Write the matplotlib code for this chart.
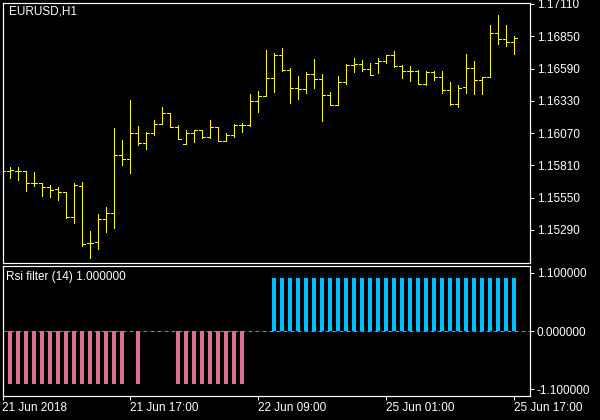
import matplotlib
matplotlib.use("Agg")
import matplotlib.pyplot as plt
import numpy as np

plt.rcParams['font.family'] = ['Liberation Sans', 'DejaVu Sans']
plt.rcParams['axes.unicode_minus'] = False

# ---- data (EURUSD H1, one value per hourly bar) ----
opens = [1.15765, 1.15765, 1.15765, 1.15765, 1.15666, 1.15671, 1.15634, 1.15618, 1.15594, 1.15397,
         1.15644, 1.15183, 1.15191, 1.15376, 1.15425, 1.15894, 1.15859, 1.16069, 1.15993, 1.16069,
         1.16141, 1.16230, 1.16117, 1.15980, 1.16069, 1.16095, 1.16037, 1.16120, 1.16004, 1.16053,
         1.16133, 1.16133, 1.16329, 1.16369, 1.16512, 1.16699, 1.16581, 1.16431, 1.16423, 1.16544,
         1.16506, 1.16377, 1.16294, 1.16479, 1.16619, 1.16624, 1.16584, 1.16632, 1.16651, 1.16699,
         1.16608, 1.16570, 1.16570, 1.16468, 1.16560, 1.16522, 1.16415, 1.16302, 1.16442, 1.16595,
         1.16496, 1.16522, 1.16874, 1.16828, 1.16802]
highs = [1.15781, 1.15800, 1.15800, 1.15765, 1.15757, 1.15671, 1.15652, 1.15634, 1.15598, 1.15666,
         1.15674, 1.15284, 1.15416, 1.15473, 1.16109, 1.16015, 1.16337, 1.16128, 1.16082, 1.16176,
         1.16281, 1.16230, 1.16136, 1.16095, 1.16095, 1.16095, 1.16176, 1.16122, 1.16069, 1.16146,
         1.16154, 1.16385, 1.16409, 1.16740, 1.16713, 1.16753, 1.16592, 1.16530, 1.16560, 1.16667,
         1.16546, 1.16401, 1.16530, 1.16627, 1.16673, 1.16659, 1.16632, 1.16673, 1.16699, 1.16732,
         1.16619, 1.16611, 1.16576, 1.16568, 1.16570, 1.16570, 1.16479, 1.16458, 1.16707, 1.16651,
         1.16525, 1.16941, 1.17021, 1.16941, 1.16852]
lows = [1.15749, 1.15711, 1.15693, 1.15606, 1.15647, 1.15566, 1.15558, 1.15532, 1.15389, 1.15344,
        1.15164, 1.15067, 1.15137, 1.15276, 1.15309, 1.15813, 1.15747, 1.15972, 1.15945, 1.16057,
        1.16141, 1.16117, 1.16020, 1.15980, 1.16001, 1.16029, 1.16033, 1.16004, 1.16004, 1.16037,
        1.16082, 1.16130, 1.16243, 1.16375, 1.16404, 1.16573, 1.16315, 1.16347, 1.16396, 1.16431,
        1.16170, 1.16294, 1.16294, 1.16463, 1.16560, 1.16573, 1.16536, 1.16557, 1.16632, 1.16600,
        1.16516, 1.16492, 1.16468, 1.16458, 1.16500, 1.16391, 1.16297, 1.16283, 1.16396, 1.16388,
        1.16388, 1.16520, 1.16788, 1.16774, 1.16710]
closes = [1.15765, 1.15771, 1.15765, 1.15666, 1.15666, 1.15634, 1.15612, 1.15594, 1.15397, 1.15652,
          1.15175, 1.15183, 1.15376, 1.15427, 1.15894, 1.15859, 1.16069, 1.15993, 1.16069, 1.16141,
          1.16230, 1.16117, 1.16020, 1.16069, 1.16095, 1.16037, 1.16120, 1.16004, 1.16057, 1.16138,
          1.16133, 1.16326, 1.16369, 1.16512, 1.16699, 1.16581, 1.16431, 1.16423, 1.16544, 1.16506,
          1.16377, 1.16294, 1.16479, 1.16619, 1.16624, 1.16584, 1.16536, 1.16651, 1.16699, 1.16608,
          1.16570, 1.16570, 1.16468, 1.16560, 1.16522, 1.16415, 1.16302, 1.16431, 1.16595, 1.16496,
          1.16522, 1.16874, 1.16828, 1.16802, 1.16834]
rsi_filter = [-1, -1, -1, -1, -1, -1, -1, -1, -1, -1,
              -1, -1, -1, -1, -1, -1, 0, -1, 0, 0,
              0, 0, -1, -1, -1, -1, -1, -1, -1, -1,
              -1, 0, 0, 0, 1, 1, 1, 1, 1, 1,
              1, 1, 1, 1, 1, 1, 1, 1, 1, 1,
              1, 1, 1, 1, 1, 1, 1, 1, 1, 1,
              1, 1, 1, 1, 1]
time_tick_bars = [0, 16, 32, 48, 64]
time_tick_labels = ["21 Jun 2018", "21 Jun 17:00", "22 Jun 09:00", "25 Jun 01:00", "25 Jun 17:00"]
price_ticks = [1.17110, 1.16850, 1.16590, 1.16330, 1.16070, 1.15810, 1.15550, 1.15290]
rsi_ticks = [1.1, 0.0, -1.1]
rsi_tick_labels = ["1.100000", "0.000000", "-1.100000"]
symbol_title = "EURUSD,H1"
indicator_title = "Rsi filter (14) 1.000000"

# ---- figure ----
W, H = 600, 420
fig = plt.figure(figsize=(6, 4.2), dpi=100, facecolor='black')

def frac(left, top, right, bottom):
    return [left / W, 1 - bottom / H, (right - left) / W, (bottom - top) / H]

ax = fig.add_axes(frac(2.5, 2.5, 530, 263))
ax2 = fig.add_axes(frac(2.5, 265.5, 530, 396))

x = np.arange(len(opens))
xlim = (0.0625, 66.0)
fs = 8.5
px = 0.72  # one pixel in points

for a in (ax, ax2):
    a.set_facecolor('black')
    for s in a.spines.values():
        s.set_color('white')
        s.set_linewidth(px * 1.2)
    a.set_xlim(*xlim)
    a.yaxis.tick_right()
    a.tick_params(axis='y', which='both', direction='out', length=3, width=px,
                  colors='white', labelsize=fs, pad=2, left=False, right=True)

# price bars (OHLC)
ycol = '#FFFF00'
ax.vlines(x, lows, highs, color=ycol, lw=px, antialiased=False)
ax.hlines(opens, x - 0.33, x, color=ycol, lw=px, antialiased=False)
ax.hlines(closes, x, x + 0.33, color=ycol, lw=px, antialiased=False)
ax.set_ylim(1.15024, 1.17122)
ax.set_yticks(price_ticks)
ax.set_yticklabels([f"{p:.5f}" for p in price_ticks])
ax.set_xticks([])
ax.text(7 / 527.5, 1 - 9.5 / 260.5, symbol_title, transform=ax.transAxes,
        color='white', fontsize=fs, ha='left', va='center')

# indicator histogram
vals = np.array(rsi_filter, dtype=float)
neg = vals < 0
pos = vals > 0
ax2.axhline(0, color='#778899', lw=px, ls=(0, (4, 3)), zorder=1)
ax2.bar(x[neg], vals[neg], width=0.5, color='#DB7093', zorder=2, antialiased=False)
ax2.bar(x[pos], vals[pos], width=0.5, color='#00BFFF', zorder=2, antialiased=False)
ax2.set_ylim(-1.226, 1.237)
ax2.set_yticks(rsi_ticks)
ax2.set_yticklabels(rsi_tick_labels)
ax2.set_xticks(time_tick_bars)
ax2.set_xticklabels(time_tick_labels, ha='left')
ax2.tick_params(axis='x', direction='out', length=3, width=px, colors='white',
                labelsize=fs, pad=1)
ax2.text(4 / 527.5, 1 - 11.5 / 130.5, indicator_title, transform=ax2.transAxes,
         color='white', fontsize=fs, ha='left', va='center')

fig.savefig('out.png', dpi=100, facecolor='black')
